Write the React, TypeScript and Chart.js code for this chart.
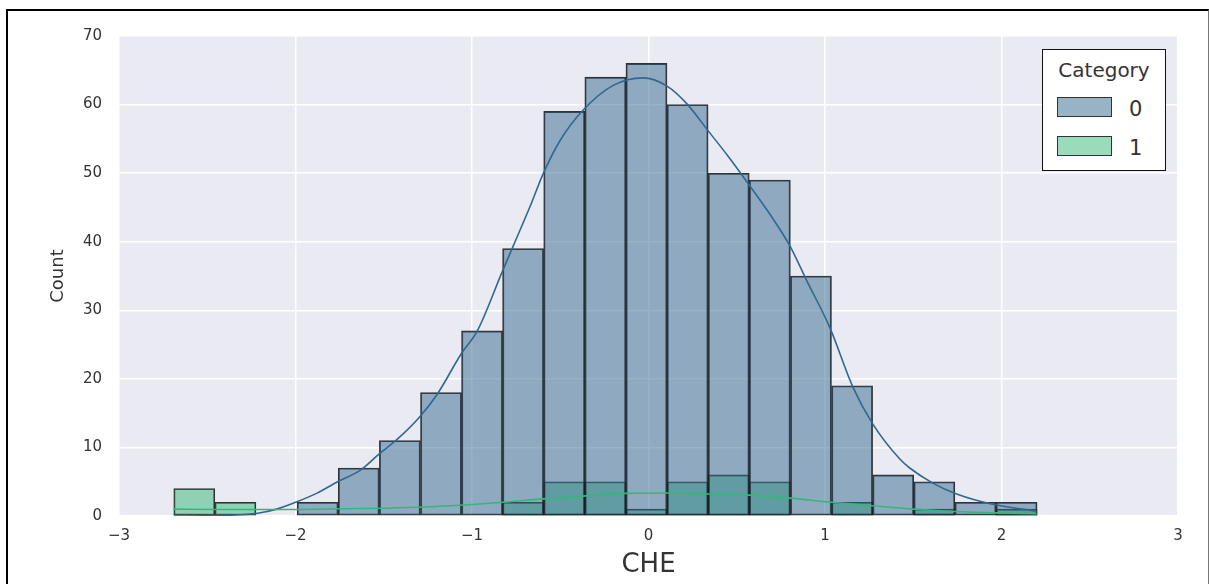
import React, { useEffect, useRef } from 'react';
import { Chart, registerables } from 'chart.js';

Chart.register(...registerables);

// ---- data ----
const binEdges = [
  -2.690, -2.457, -2.224, -1.991, -1.758, -1.525, -1.292, -1.059, -0.827, -0.594, -0.361,
  -0.128, 0.105, 0.338, 0.571, 0.804, 1.037, 1.270, 1.503, 1.736, 1.969, 2.202,
];
const countsCat0 = [0, 0, 0, 2, 7, 11, 18, 27, 39, 59, 64, 66, 60, 50, 49, 35, 19, 6, 5, 2, 2];
const countsCat1 = [4, 2, 0, 0, 0, 0, 0, 0, 2, 5, 5, 1, 5, 6, 5, 0, 2, 0, 1, 0, 1];

const kde0X = [
  -2.690, -2.453, -2.215, -2.107, -2.000, -1.881, -1.762, -1.632, -1.524, -1.423, -1.298,
  -1.196, -1.060, -0.970, -0.829, -0.766, -0.670, -0.597, -0.500, -0.370, -0.200, -0.031,
  0.105, 0.218, 0.337, 0.450, 0.564, 0.688, 0.801, 0.897, 1.027, 1.158, 1.271, 1.424, 1.480,
  1.611, 1.746, 1.950, 2.199,
];
const kde0Y = [
  0.0, 0.05, 0.4, 1.0, 2.0, 3.3, 5.0, 6.7, 9.1, 11.2, 14.4, 17.8, 23.7, 27.0, 35.6, 39.4, 45.2,
  49.9, 54.8, 59.2, 62.8, 63.9, 62.7, 60.1, 56.2, 52.5, 48.5, 44.0, 39.4, 34.3, 27.5, 18.8,
  13.4, 8.3, 7.0, 4.8, 3.2, 1.7, 0.7,
];
const kde1X = [
  -2.690, -2.453, -2.215, -2.000, -1.745, -1.406, -1.123, -0.823, -0.597, -0.370, -0.127,
  0.100, 0.337, 0.569, 0.801, 1.033, 1.271, 1.497, 1.729, 1.962, 2.199,
];
const kde1Y = [
  1.0, 0.95, 0.95, 0.95, 1.05, 1.2, 1.5, 2.0, 2.5, 2.9, 3.3, 3.35, 3.2, 3.05, 2.6, 2.0, 1.5,
  1.0, 0.65, 0.45, 0.35,
];

const categories = ['0', '1'];
const xTickValues = [-3, -2, -1, 0, 1, 2, 3];
const yTickValues = [0, 10, 20, 30, 40, 50, 60, 70];
const xLabel = 'CHE';
const yLabel = 'Count';
const legendTitle = 'Category';

const COLORS = ['#31688e', '#35b779'];
const FILLS = ['rgba(49,104,142,0.5)', 'rgba(53,183,121,0.5)'];
const FONT = "'DejaVu Sans', 'Liberation Sans', sans-serif";
const TEXT = '#333333';

const bgPlugin = {
  id: 'plotBg',
  beforeDraw(chart: any) {
    const { ctx, chartArea: a } = chart;
    ctx.save();
    ctx.fillStyle = '#eaeaf2';
    ctx.fillRect(a.left, a.top, a.right - a.left, a.bottom - a.top);
    ctx.restore();
  },
};

const minus = (v: any) => String(v).replace('-', '\u2212');

export default function App() {
  const ref = useRef<HTMLCanvasElement | null>(null);

  useEffect(() => {
    if (!ref.current) return;
    const centers = binEdges.slice(0, -1).map((e, i) => (e + binEdges[i + 1]) / 2);
    const barSet = (counts: number[], idx: number, order: number) => ({
      type: 'bar' as const,
      label: categories[idx],
      data: centers.map((c, i) => ({ x: c, y: counts[i] > 0 ? counts[i] : null })),
      backgroundColor: FILLS[idx],
      borderColor: 'rgba(30,30,30,0.9)',
      borderWidth: 1.2,
      borderSkipped: false,
      grouped: false,
      barPercentage: 1,
      categoryPercentage: 1,
      order,
    });
    const lineSet = (xs: number[], ys: number[], idx: number, order: number) => ({
      type: 'line' as const,
      label: 'kde ' + categories[idx],
      data: xs.map((x, i) => ({ x, y: ys[i] })),
      borderColor: COLORS[idx],
      borderWidth: 1.6,
      pointRadius: 0,
      fill: false,
      cubicInterpolationMode: 'monotone' as const,
      order,
    });

    const chart = new Chart(ref.current, {
      type: 'bar',
      data: {
        datasets: [
          barSet(countsCat0, 0, 2),
          barSet(countsCat1, 1, 3),
          lineSet(kde0X, kde0Y, 0, 1),
          lineSet(kde1X, kde1Y, 1, 0),
        ] as any,
      },
      options: {
        responsive: false,
        animation: false,
        devicePixelRatio: 1,
        layout: { padding: { left: 0, right: 31, top: 36, bottom: 0 } },
        plugins: { legend: { display: false }, tooltip: { enabled: false } },
        scales: {
          x: {
            type: 'linear',
            min: -3,
            max: 3,
            offset: false,
            afterBuildTicks: (s: any) => {
              s.ticks = xTickValues.map((v) => ({ value: v }));
            },
            ticks: {
              callback: minus,
              font: { family: FONT, size: 15 },
              color: TEXT,
              padding: 11,
              maxRotation: 0,
              autoSkip: false,
            },
            grid: { color: '#ffffff', lineWidth: 1.5, drawTicks: false, offset: false },
            border: { display: false },
            title: {
              display: true,
              text: xLabel,
              font: { family: FONT, size: 26 },
              color: TEXT,
              padding: { top: 0, bottom: 3 },
            },
            afterFit: (s: any) => {
              s.height = 68;
              s.paddingLeft = 0;
              s.paddingRight = 0;
            },
          },
          y: {
            type: 'linear',
            min: 0,
            max: 70,
            afterBuildTicks: (s: any) => {
              s.ticks = yTickValues.map((v) => ({ value: v }));
            },
            ticks: {
              callback: minus,
              font: { family: FONT, size: 15 },
              color: TEXT,
              padding: 17,
              autoSkip: false,
            },
            grid: { color: '#ffffff', lineWidth: 1.5, drawTicks: false },
            border: { display: false },
            title: {
              display: true,
              text: yLabel,
              font: { family: FONT, size: 18 },
              color: TEXT,
              padding: { top: 48, bottom: 0 },
            },
            afterFit: (s: any) => {
              s.width = 119;
              s.paddingTop = 0;
              s.paddingBottom = 0;
            },
          },
        },
      } as any,
      plugins: [bgPlugin],
    });
    return () => chart.destroy();
  }, []);

  const patch = (idx: number, top: number) => (
    <div
      style={{
        position: 'absolute',
        left: 14,
        top,
        width: 55,
        height: 20,
        boxSizing: 'border-box',
        background: FILLS[idx],
        border: '1px solid #333',
      }}
    />
  );
  const label = (text: string, top: number) => (
    <div
      style={{
        position: 'absolute',
        left: 86,
        top,
        fontSize: 21,
        lineHeight: '24px',
        color: TEXT,
      }}
    >
      {text}
    </div>
  );

  return (
    <div style={{ position: 'fixed', left: 0, top: 0, width: 1209, height: 584, overflow: 'hidden', background: '#fff' }}>
      <div
        style={{
          position: 'absolute',
          left: 6,
          top: 9,
          width: 1203,
          height: 700,
          boxSizing: 'border-box',
          borderLeft: '2px solid #000',
          borderTop: '2px solid #000',
          borderRight: '1px solid #777',
        }}
      />
      <canvas ref={ref} width={1209} height={584} style={{ position: 'absolute', left: 0, top: 0 }} />
      <div
        style={{
          position: 'absolute',
          left: 1042,
          top: 49,
          width: 124,
          height: 122,
          boxSizing: 'border-box',
          background: '#fff',
          border: '1.5px solid #111',
          fontFamily: FONT,
        }}
      >
        <div
          style={{
            position: 'absolute',
            left: 0,
            right: 0,
            top: 8,
            textAlign: 'center',
            fontSize: 20,
            lineHeight: '24px',
            color: TEXT,
          }}
        >
          {legendTitle}
        </div>
        {patch(0, 47)}
        {label(categories[0], 47)}
        {patch(1, 86)}
        {label(categories[1], 86)}
      </div>
    </div>
  );
}
